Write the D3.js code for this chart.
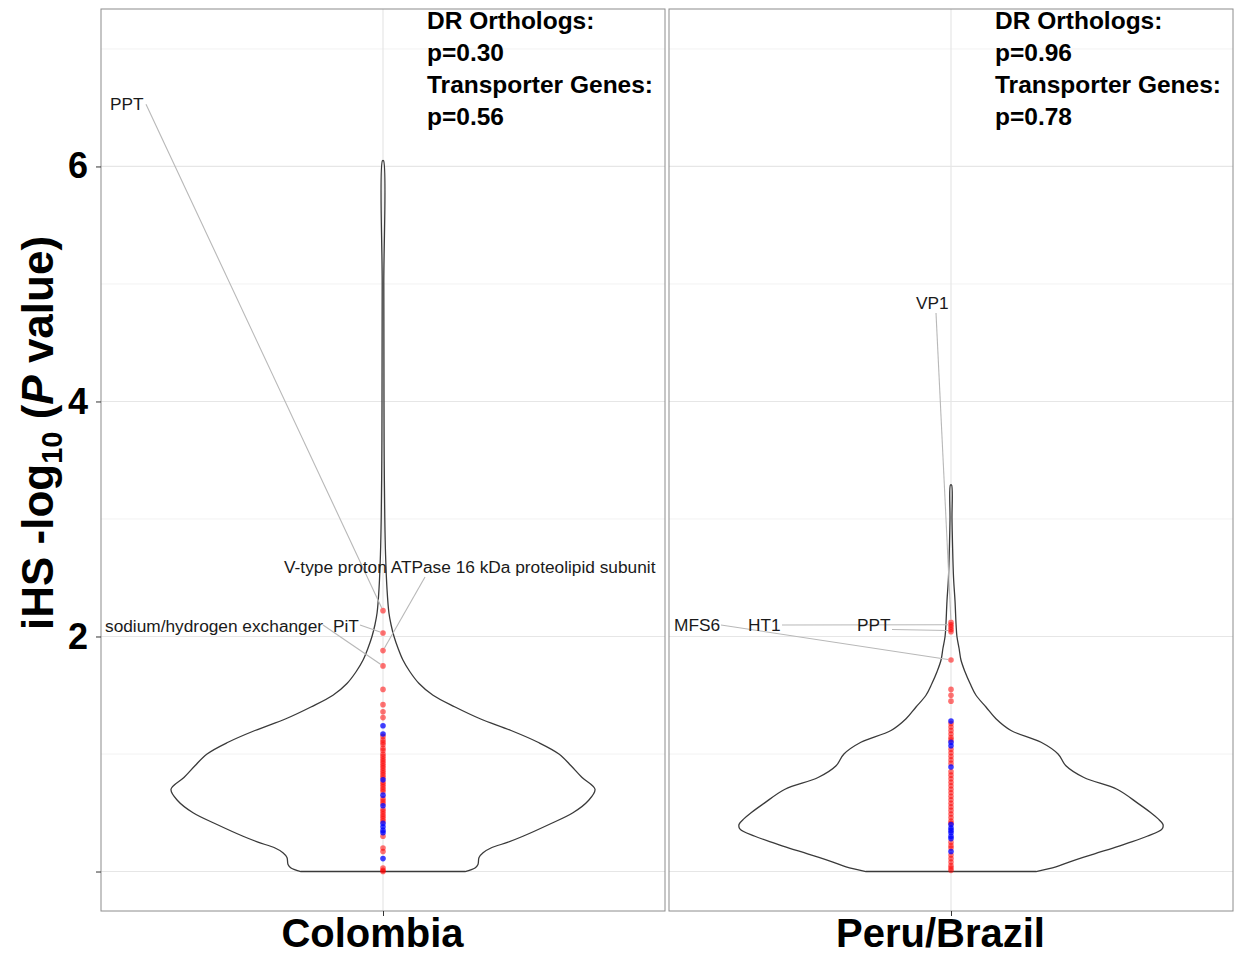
<!DOCTYPE html>
<html>
<head>
<meta charset="utf-8">
<script src="https://cdn.jsdelivr.net/npm/d3@7"></script>
<style>
  body { margin: 0; background: #fff; }
  svg { font-family: "Liberation Sans", Arial, Helvetica, sans-serif; }
</style>
</head>
<body>
<div id="graph"></div>
<script>
// ---- data ----
var categories = ["Colombia", "Peru/Brazil"];
var yTicks = [0, 2, 4, 6];
var yTickLabels = ["", "2", "4", "6"];
var yMinor = [1, 3, 5, 7];

// iHS -log10(P) for the plotted genes (red = transporter genes, blue = DR orthologs)
var colombiaRed = [2.22, 2.03, 1.88, 1.75, 1.55, 1.42, 1.36, 1.31,
  1.15, 1.12, 1.10, 1.08, 1.05, 1.03, 1.00, 0.98, 0.96, 0.94, 0.92, 0.90, 0.88, 0.86, 0.84, 0.82, 0.80,
  0.76, 0.74, 0.72, 0.70, 0.68, 0.62, 0.60, 0.58, 0.53, 0.51, 0.49, 0.47, 0.45, 0.43,
  0.30, 0.20, 0.17, 0.03, 0.01, 0.00];
var colombiaBlue = [1.24, 1.17, 0.78, 0.65, 0.56, 0.41, 0.38, 0.35, 0.33, 0.11];
var peruRed = [2.12, 2.10, 2.08, 2.06, 2.04, 1.80, 1.55, 1.50, 1.45,
  1.26, 1.23, 1.20, 1.17, 1.14, 1.12, 1.04, 1.01, 0.98, 0.95, 0.92,
  0.85, 0.82, 0.79, 0.76, 0.73, 0.70, 0.67, 0.64, 0.61, 0.58, 0.55, 0.52, 0.49, 0.46, 0.43, 0.41,
  0.25, 0.22, 0.20, 0.14, 0.11, 0.08, 0.05, 0.03, 0.01];
var peruBlue = [1.28, 1.10, 1.07, 0.89, 0.40, 0.37, 0.35, 0.33, 0.30, 0.28, 0.17];

// violin outlines: value and relative density (1 = widest)
var colombiaViolinV = [0, 0.03, 0.06, 0.12, 0.16, 0.2, 0.25, 0.3, 0.4, 0.5, 0.6, 0.7, 0.8, 0.9, 1.0, 1.1, 1.2, 1.3, 1.4, 1.5, 1.6, 1.7, 1.8, 1.9, 2.0, 2.1, 2.2, 2.4, 2.7, 3.0, 3.5, 4.0, 5.0, 6.05];
var colombiaViolinD = [0.387, 0.434, 0.448, 0.453, 0.472, 0.509, 0.590, 0.660, 0.783, 0.896, 0.967, 1.0, 0.939, 0.887, 0.830, 0.731, 0.604, 0.458, 0.340, 0.236, 0.170, 0.127, 0.094, 0.071, 0.052, 0.038, 0.028, 0.019, 0.012, 0.0085, 0.0057, 0.0047, 0.0038, 0.0024];
var peruViolinV = [0, 0.04, 0.08, 0.12, 0.16, 0.2, 0.24, 0.3, 0.36, 0.4, 0.45, 0.5, 0.58, 0.7, 0.8, 0.9, 1.0, 1.1, 1.2, 1.3, 1.4, 1.5, 1.6, 1.7, 1.8, 1.9, 2.0, 2.1, 2.3, 2.5, 2.8, 3.0, 3.29];
var peruViolinD = [0.401, 0.495, 0.557, 0.623, 0.693, 0.764, 0.830, 0.925, 0.995, 1.0, 0.976, 0.943, 0.882, 0.783, 0.627, 0.542, 0.505, 0.425, 0.283, 0.212, 0.165, 0.118, 0.090, 0.066, 0.047, 0.038, 0.028, 0.024, 0.019, 0.012, 0.007, 0.0047, 0.0024];

// test results printed in each panel
var drPvalues = ["0.30", "0.96"];
var transporterPvalues = ["0.56", "0.78"];

// labelled genes: target value, then where ggrepel put the label (x offset px from violin centre, y in data units)
var colombiaLabels = [
  {gene: "PPT", value: 2.22, lx: -273, ly: 6.53, sx: -237, sy: 6.53},
  {gene: "V-type proton ATPase 16 kDa proteolipid subunit", value: 1.88, lx: -99, ly: 2.59, sx: 42, sy: 2.506},
  {gene: "sodium/hydrogen exchanger", value: 1.75, lx: -278, ly: 2.09, sx: -60, sy: 2.098},
  {gene: "PiT", value: 2.03, lx: -50, ly: 2.09, sx: -23, sy: 2.098}
];
var peruLabels = [
  {gene: "VP1", value: 2.12, lx: -35, ly: 4.84, sx: -15, sy: 4.753},
  {gene: "MFS6", value: 1.80, lx: -277, ly: 2.10, sx: -230, sy: 2.098},
  {gene: "HT1", value: 2.10, lx: -203, ly: 2.10, sx: -169, sy: 2.098},
  {gene: "PPT", value: 2.05, lx: -94, ly: 2.10, sx: -59, sy: 2.06}
];

var panels = [
  {name: categories[0], red: colombiaRed, blue: colombiaBlue, vv: colombiaViolinV, vd: colombiaViolinD, labels: colombiaLabels, dr: drPvalues[0], tr: transporterPvalues[0]},
  {name: categories[1], red: peruRed, blue: peruBlue, vv: peruViolinV, vd: peruViolinD, labels: peruLabels, dr: drPvalues[1], tr: transporterPvalues[1]}
];

// ---- layout ----
var w = 1235, h = 956;
var plotLeft = 101, plotRight = 1233, plotTop = 9, plotBottom = 911;

var svg = d3.select("div#graph").append("svg")
  .attr("width", w)
  .attr("height", h);

// one band per facet panel
var xPanel = d3.scaleBand().domain(categories).range([plotLeft, plotRight]).paddingInner(0.00704);
var y = d3.scaleLinear().domain([-0.336, 7.34]).range([plotBottom, plotTop]);
var wScale = d3.scaleLinear().domain([0, 1]).range([0, 212]);

var violinLine = d3.line()
  .x(function(d) { return d[0]; })
  .y(function(d) { return d[1]; })
  .curve(d3.curveCatmullRom.alpha(0.5));

panels.forEach(function(p, pi) {
  var x0 = xPanel(p.name), bw = xPanel.bandwidth();
  var cx = x0 + bw / 2;
  var g = svg.append("g").attr("class", "panel");

  // minor + major grid
  g.selectAll("line.minor").data(yMinor).enter().append("line")
    .attr("x1", x0).attr("x2", x0 + bw)
    .attr("y1", function(d) { return y(d); }).attr("y2", function(d) { return y(d); })
    .style("stroke", "#f2f2f2").style("stroke-width", 1);
  g.selectAll("line.major").data(yTicks).enter().append("line")
    .attr("x1", x0).attr("x2", x0 + bw)
    .attr("y1", function(d) { return y(d); }).attr("y2", function(d) { return y(d); })
    .style("stroke", "#e6e6e6").style("stroke-width", 1.2);
  g.append("line")
    .attr("x1", cx).attr("x2", cx).attr("y1", plotTop).attr("y2", plotBottom)
    .style("stroke", "#e6e6e6").style("stroke-width", 1.2);

  // violin outline: up the left side, down the right side
  var pts = [];
  p.vv.forEach(function(v, i) { pts.push([cx - wScale(p.vd[i]), y(v)]); });
  for (var i = p.vv.length - 1; i >= 0; i--) pts.push([cx + wScale(p.vd[i]), y(p.vv[i])]);
  g.append("path")
    .attr("d", violinLine(pts) + "Z")
    .attr("fill", "none")
    .style("stroke", "#3a3a3a")
    .style("stroke-width", 1.3);

  // points
  g.selectAll("circle.red").data(p.red).enter().append("circle")
    .attr("cx", cx).attr("cy", function(d) { return y(d); })
    .attr("r", 2.8).attr("fill", "#ff0000").attr("fill-opacity", 0.55);
  g.selectAll("circle.blue").data(p.blue).enter().append("circle")
    .attr("cx", cx).attr("cy", function(d) { return y(d); })
    .attr("r", 2.8).attr("fill", "#0000ff").attr("fill-opacity", 0.75);

  // repel segments + labels
  p.labels.forEach(function(l) {
    var x1 = cx + l.sx, y1 = y(l.sy), x2 = cx, y2 = y(l.value);
    var len = Math.sqrt((x2 - x1) * (x2 - x1) + (y2 - y1) * (y2 - y1));
    var shrink = 3 / len;
    g.append("line")
      .attr("x1", x1).attr("y1", y1)
      .attr("x2", x2 - (x2 - x1) * shrink).attr("y2", y2 - (y2 - y1) * shrink)
      .style("stroke", "#b8b8b8").style("stroke-width", 1.1);
  });
  p.labels.forEach(function(l) {
    g.append("text")
      .attr("x", cx + l.lx).attr("y", y(l.ly))
      .attr("dy", "0.36em")
      .style("font-size", "17.3px")
      .attr("fill", "#1a1a1a")
      .text(l.gene);
  });

  // p-value annotations
  var ann = [["DR Orthologs:", 0], ["p=" + p.dr, 1], ["Transporter Genes:", 2], ["p=" + p.tr, 3]];
  g.selectAll("text.ann").data(ann).enter().append("text")
    .attr("class", "ann")
    .attr("x", cx + 44)
    .attr("y", function(d) { return 29 + d[1] * 32; })
    .style("font-size", "24.5px").style("font-weight", "bold")
    .attr("fill", "#000")
    .text(function(d) { return d[0]; });

  // panel border
  g.append("rect")
    .attr("x", x0).attr("y", plotTop).attr("width", bw).attr("height", plotBottom - plotTop)
    .attr("fill", "none").style("stroke", "#8c8c8c").style("stroke-width", 1);

  // x axis (one category per facet)
  var xa = d3.scalePoint().domain([p.name]).range([cx, cx]);
  var ax = svg.append("g")
    .attr("transform", "translate(0," + plotBottom + ")")
    .call(d3.axisBottom(xa).tickSize(5).tickPadding(7));
  ax.select(".domain").remove();
  ax.selectAll("line").style("stroke", "#333");
  ax.selectAll("text")
    .attr("dx", -11)
    .attr("dy", "0.6em")
    .style("font-size", "40px").style("font-weight", "bold")
    .attr("fill", "#000")
    .attr("font-family", null);
});

// y axis on the first panel only
var yAx = svg.append("g")
  .attr("transform", "translate(" + plotLeft + ",0)")
  .call(d3.axisLeft(y).tickValues(yTicks).tickSize(5).tickPadding(8)
    .tickFormat(function(d, i) { return yTickLabels[i]; }));
yAx.select(".domain").remove();
yAx.selectAll("line").style("stroke", "#333");
yAx.selectAll("text")
  .style("font-size", "36px").style("font-weight", "bold")
  .attr("fill", "#000")
  .attr("font-family", null);

// y axis title: iHS -log10 (P value)
var yt = svg.append("text")
  .attr("transform", "translate(53," + 433 + ") rotate(-90)")
  .attr("text-anchor", "middle")
  .style("font-size", "44px").style("font-weight", "bold")
  .attr("fill", "#000");
yt.append("tspan").text("iHS -log");
yt.append("tspan").attr("dy", 9).style("font-size", "29px").text("10");
yt.append("tspan").attr("dy", -9).text(" (");
yt.append("tspan").style("font-style", "italic").text("P");
yt.append("tspan").text(" value)");
</script>
</body>
</html>
